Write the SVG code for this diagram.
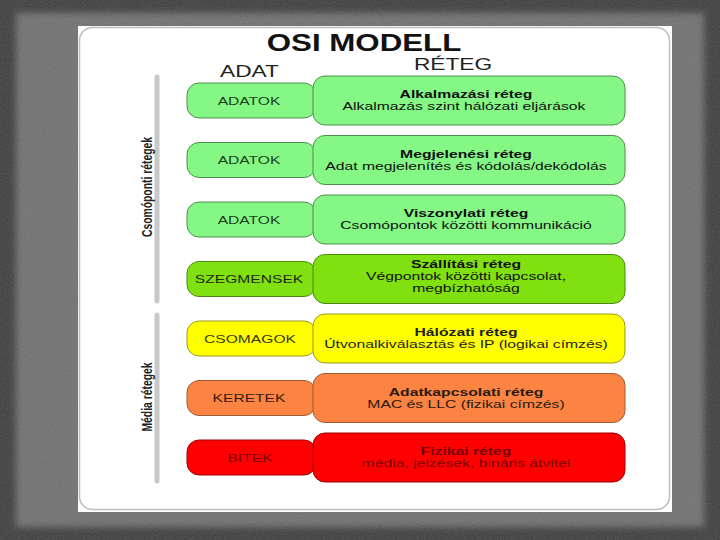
<svg xmlns="http://www.w3.org/2000/svg" width="720" height="540" viewBox="0 0 720 540">
<defs>
<filter id="grain" x="0" y="0" width="100%" height="100%">
<feTurbulence type="fractalNoise" baseFrequency="0.9" numOctaves="2" seed="3" result="n"/>
<feColorMatrix in="n" type="matrix" values="0 0 0 0 0.5  0 0 0 0 0.5  0 0 0 0 0.5  0 0 0 0.25 0"/>
</filter>
<filter id="soft" x="-5%" y="-5%" width="110%" height="110%">
<feGaussianBlur stdDeviation="3"/>
</filter>
</defs>
<style>
.t{font-family:"Liberation Sans",Arial,sans-serif;text-anchor:middle}
.b{font-weight:bold}
.title{font-size:23px;font-weight:bold;fill:#111}
.col{font-size:16px;fill:#222}
.lbl{font-size:11px}
.rt{font-size:11px}
.side{font-family:"Liberation Sans",Arial,sans-serif;font-size:14px;font-weight:bold;fill:#222;text-anchor:middle}
.bar{stroke:#c8c8c8;stroke-width:5;stroke-linecap:round}
.g rect{fill:#84f784;stroke:#4f8f4f;stroke-width:1}
.l rect{fill:#80e010;stroke:#4a8a10;stroke-width:1}
.y rect{fill:#ffff00;stroke:#9a9a20;stroke-width:1}
.o rect{fill:#fb8442;stroke:#a05a30;stroke-width:1}
.r rect{fill:#ff0000;stroke:#a00000;stroke-width:1}
.g .lbl{fill:#1f3f1f}.g .rt{fill:#111}
.l .lbl{fill:#1a2a0a}.l .rt{fill:#111}
.y .lbl{fill:#3a3a10}.y .rt{fill:#222}
.o .lbl{fill:#3a1a10}.o .rt{fill:#2a1a10}
.r .lbl{fill:#7a0000}.r .rt{fill:#7a0000}
</style>
<rect x="0" y="0" width="720" height="540" fill="#3a3a3a"/>
<rect x="16" y="13" width="688" height="514" fill="#6e6e6e" filter="url(#soft)"/>
<rect x="0" y="0" width="720" height="540" filter="url(#grain)"/>
<rect x="78" y="26" width="594" height="486" fill="#ffffff"/>
<rect x="79.5" y="27.5" width="590" height="482" rx="13" fill="none" stroke="#bdbdbd" stroke-width="1.5"/>

<text class="t title" transform="matrix(1.36 0 0 1 364 51)">OSI MODELL</text>
<text class="t col" transform="matrix(1.42 0 0 1 249.5 77)">ADAT</text>
<text class="t col" transform="matrix(1.42 0 0 1 453 70)">RÉTEG</text>

<g id="sidebars">
<line class="bar" x1="157" y1="77" x2="157" y2="301"/>
<line class="bar" x1="157" y1="315" x2="157" y2="481"/>
<text class="side" transform="translate(152 187) rotate(-90)" textLength="100" lengthAdjust="spacingAndGlyphs">Csomóponti rétegek</text>
<text class="side" transform="translate(152 397) rotate(-90)" textLength="69" lengthAdjust="spacingAndGlyphs">Média rétegek</text>
</g>

<g id="row1" class="g">
<rect x="187" y="83" width="129" height="35" rx="12"/>
<rect x="313" y="76" width="312" height="49" rx="12"/>
<text class="t lbl" transform="matrix(1.42 0 0 1 249 104.5)">ADATOK</text>
<text class="t rt b" transform="matrix(1.43 0 0 1 466 98)">Alkalmazási réteg</text>
<text class="t rt" transform="matrix(1.43 0 0 1 464 110)">Alkalmazás szint  hálózati eljárások</text>
</g>

<g id="row2" class="g">
<rect x="187" y="142.5" width="129" height="35" rx="12"/>
<rect x="313" y="135.5" width="312" height="49" rx="12"/>
<text class="t lbl" transform="matrix(1.42 0 0 1 249 164)">ADATOK</text>
<text class="t rt b" transform="matrix(1.43 0 0 1 466 157.5)">Megjelenési réteg</text>
<text class="t rt" transform="matrix(1.43 0 0 1 466 169.5)">Adat megjelenítés és kódolás/dekódolás</text>
</g>

<g id="row3" class="g">
<rect x="187" y="202" width="129" height="35" rx="12"/>
<rect x="313" y="195" width="312" height="49" rx="12"/>
<text class="t lbl" transform="matrix(1.42 0 0 1 249 223.5)">ADATOK</text>
<text class="t rt b" transform="matrix(1.43 0 0 1 466 217)">Viszonylati réteg</text>
<text class="t rt" transform="matrix(1.43 0 0 1 466 229)">Csomópontok közötti kommunikáció</text>
</g>

<g id="row4" class="l">
<rect x="187" y="261.5" width="129" height="35" rx="12"/>
<rect x="313" y="254.5" width="312" height="49" rx="12"/>
<text class="t lbl" transform="matrix(1.42 0 0 1 249 283)">SZEGMENSEK</text>
<text class="t rt b" transform="matrix(1.43 0 0 1 466 268)">Szállítási réteg</text>
<text class="t rt" transform="matrix(1.43 0 0 1 466 280)">Végpontok közötti kapcsolat,</text>
<text class="t rt" transform="matrix(1.43 0 0 1 466 292)">megbízhatóság</text>
</g>

<g id="row5" class="y">
<rect x="187" y="321" width="129" height="35" rx="12"/>
<rect x="313" y="314" width="312" height="49" rx="12"/>
<text class="t lbl" transform="matrix(1.42 0 0 1 250 342.5)">CSOMAGOK</text>
<text class="t rt b" transform="matrix(1.43 0 0 1 466 336)">Hálózati réteg</text>
<text class="t rt" transform="matrix(1.43 0 0 1 466 348)">Útvonalkiválasztás és IP (logikai címzés)</text>
</g>

<g id="row6" class="o">
<rect x="187" y="380.5" width="129" height="35" rx="12"/>
<rect x="313" y="373.5" width="312" height="49" rx="12"/>
<text class="t lbl" transform="matrix(1.42 0 0 1 249 402)">KERETEK</text>
<text class="t rt b" transform="matrix(1.43 0 0 1 466 395.5)">Adatkapcsolati réteg</text>
<text class="t rt" transform="matrix(1.43 0 0 1 466 407.5)">MAC és LLC (fizikai címzés)</text>
</g>

<g id="row7" class="r">
<rect x="187" y="440" width="129" height="35" rx="12"/>
<rect x="313" y="433" width="312" height="49" rx="12"/>
<text class="t lbl" transform="matrix(1.42 0 0 1 250 461.5)">BITEK</text>
<text class="t rt b" transform="matrix(1.43 0 0 1 466 455)">Fizikai réteg</text>
<text class="t rt" transform="matrix(1.43 0 0 1 466 467)">média, jelzések, bináris átvitel</text>
</g>
</svg>
